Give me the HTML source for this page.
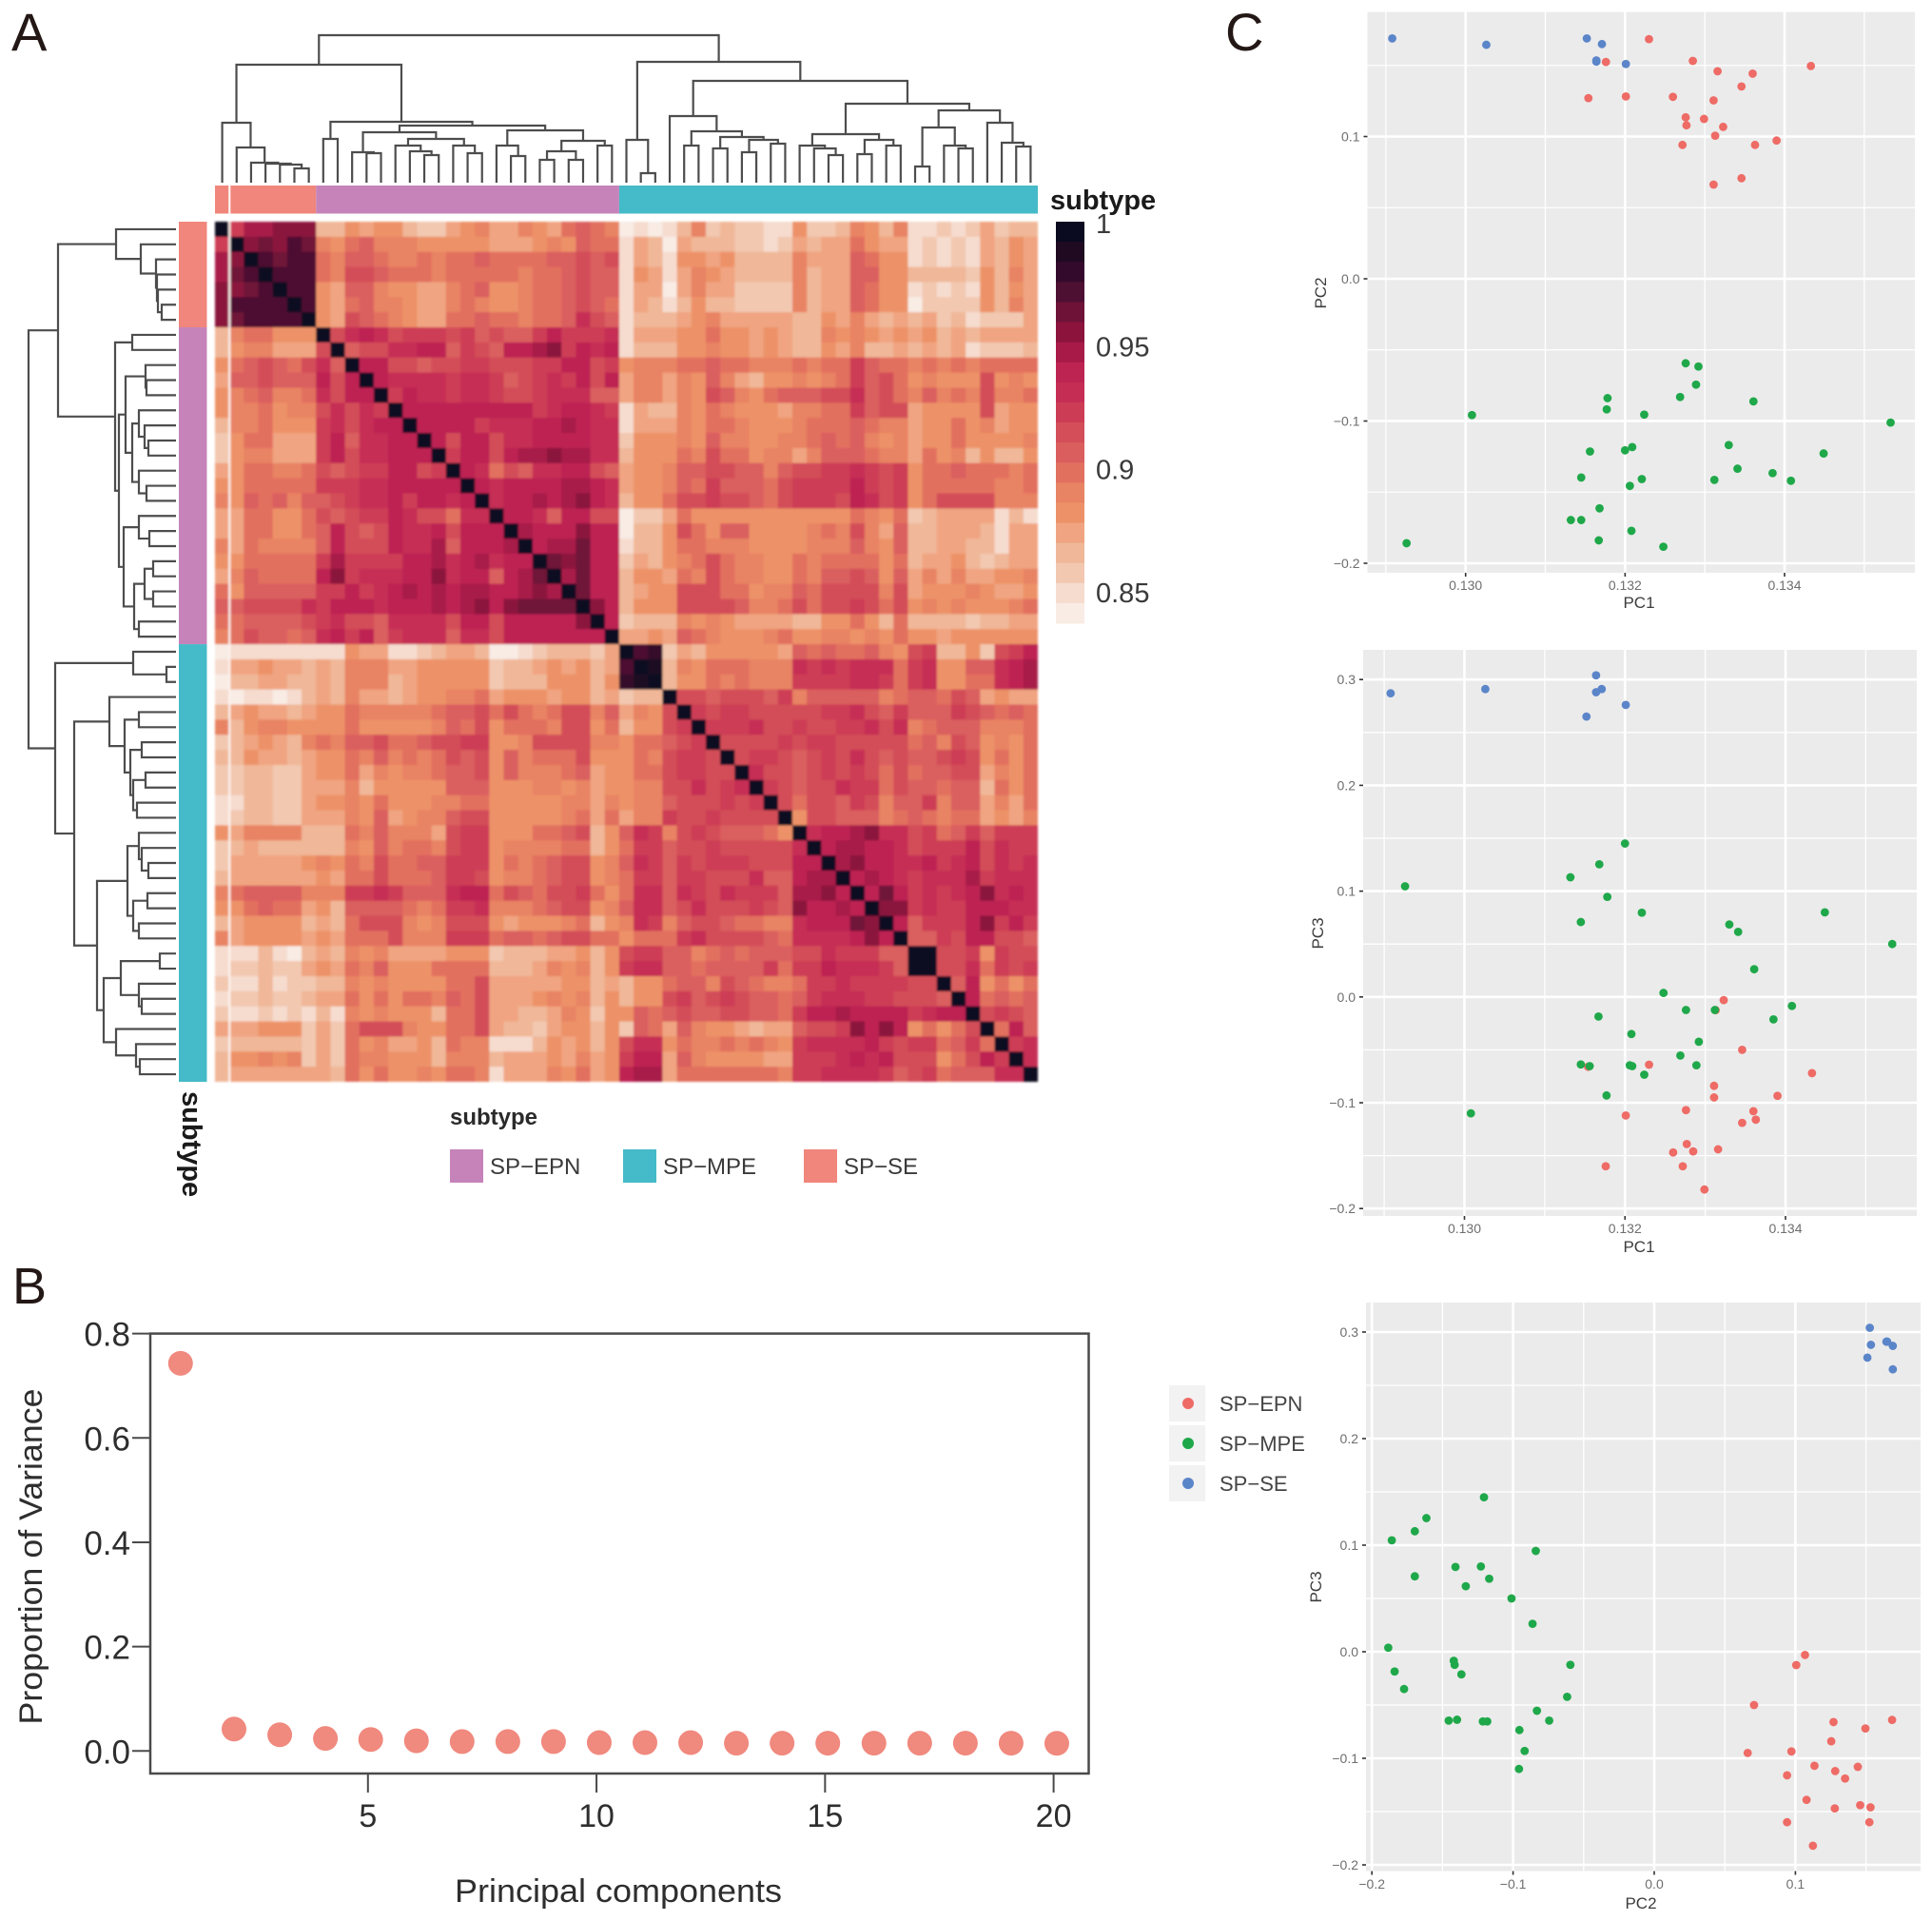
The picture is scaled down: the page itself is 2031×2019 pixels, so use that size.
<!DOCTYPE html>
<html lang="en">
<head>
<meta charset="utf-8">
<title>Spinal ependymoma subtype correlation and PCA</title>
<style>
html,body{margin:0;padding:0;background:#fff;}
svg{display:block;font-family:"Liberation Sans",sans-serif;}
</style>
</head>
<body>
<svg id="figure" xmlns="http://www.w3.org/2000/svg" width="2031" height="2019" viewBox="0 0 2031 2019">
  <defs>
    <filter id="soften" x="-1%" y="-1%" width="102%" height="102%"><feGaussianBlur stdDeviation="1.1"/></filter>
  </defs>
  <rect width="2031" height="2019" fill="#fff"/>
  <text x="12" y="53" font-size="56" fill="#231816">A</text>
  <text x="13" y="1370" font-size="54" fill="#231816">B</text>
  <text x="1288" y="53" font-size="56" fill="#231816">C</text>

  <g id="heatmap" filter="url(#soften)"></g>
  <g id="top-dendrogram" fill="none" stroke="#4d4d4d" stroke-width="2.2"></g>
  <g id="left-dendrogram" fill="none" stroke="#4d4d4d" stroke-width="2.2"></g>
  <g id="annotations"></g>
  <g id="colorbar"></g>

  <text x="1104" y="220" font-size="29" font-weight="bold" fill="#1a1a1a">subtype</text>
  <text transform="translate(192,1147) rotate(90)" font-size="29" font-weight="bold" fill="#1a1a1a">subtype</text>

  <g>
    <text x="473" y="1182" font-size="24" font-weight="bold" fill="#2a2a2a">subtype</text>
    <rect x="473" y="1208" width="35" height="35" fill="#c683ba"/>
    <text x="515" y="1234" font-size="24" fill="#3a3a3a">SP−EPN</text>
    <rect x="655" y="1208" width="35" height="35" fill="#45bac8"/>
    <text x="697" y="1234" font-size="24" fill="#3a3a3a">SP−MPE</text>
    <rect x="845" y="1208" width="35" height="35" fill="#f0867c"/>
    <text x="887" y="1234" font-size="24" fill="#3a3a3a">SP−SE</text>
  </g>

  <g id="scree-plot">
    <text x="650" y="1999" font-size="34" text-anchor="middle" textLength="344" lengthAdjust="spacingAndGlyphs" fill="#2e2e2e">Principal  components</text>
    <text transform="translate(44,1636) rotate(-90)" font-size="34" text-anchor="middle" textLength="353" lengthAdjust="spacingAndGlyphs" fill="#2e2e2e">Proportion of Variance</text>
  </g>

  <g id="scatter-panels"></g>

  <g>
    <rect x="1229" y="1456" width="38" height="38" fill="#f2f2f2"/>
    <circle cx="1249" cy="1475" r="6" fill="#ee6b66"/>
    <text x="1282" y="1483" font-size="22" fill="#444">SP−EPN</text>
    <rect x="1229" y="1498" width="38" height="38" fill="#f2f2f2"/>
    <circle cx="1249" cy="1517" r="6" fill="#1fa84a"/>
    <text x="1282" y="1525" font-size="22" fill="#444">SP−MPE</text>
    <rect x="1229" y="1540" width="38" height="38" fill="#f2f2f2"/>
    <circle cx="1249" cy="1559" r="6" fill="#5b85c9"/>
    <text x="1282" y="1567" font-size="22" fill="#444">SP−SE</text>
  </g>
</svg>
<script>
// ---------- Panel A data ----------
// Upper triangle of the symmetric correlation matrix, in thousandths. Row i starts at the diagonal.
const heatUpper = [
[1000,924,948,948,956,956,956,868,868,884,876,880,880,868,862,862,876,884,892,876,876,892,884,876,900,908,900,892,844,852,848,852,868,892,860,864,860,860,850,855,884,860,860,868,892,884,868,892,850,850,860,852,858,872,862,868,864],
[1000,956,964,956,972,964,892,884,900,908,892,888,888,884,884,884,884,884,876,876,876,884,892,884,908,900,896,852,872,868,844,872,868,864,868,862,858,856,858,876,866,874,872,900,884,872,876,856,862,852,862,850,876,868,884,876],
[1000,972,964,972,976,900,892,908,908,900,892,892,896,892,896,900,908,900,900,900,900,908,908,916,908,912,856,876,868,852,884,884,876,880,870,870,864,868,892,872,876,876,904,900,884,884,856,862,856,862,856,876,870,884,876],
[1000,972,972,976,900,892,916,912,908,900,900,896,892,900,900,900,900,900,892,896,900,908,916,908,908,852,884,872,856,876,892,884,876,870,864,864,868,892,864,876,876,908,904,884,884,864,864,864,864,858,884,868,892,876],
[1000,972,976,884,876,908,908,892,884,884,876,876,892,900,904,884,884,892,900,900,908,916,904,908,850,876,872,846,872,888,872,872,862,858,860,862,890,864,872,876,908,900,884,884,852,860,854,862,856,884,868,884,876],
[1000,976,884,876,900,908,892,892,880,876,876,892,896,892,884,884,892,900,900,908,916,908,900,852,872,868,850,868,880,866,870,858,858,858,860,888,864,872,872,904,900,884,884,848,862,862,862,862,884,868,888,876],
[1000,884,876,912,908,900,892,880,876,876,896,900,908,900,900,892,896,900,908,928,912,908,852,866,866,866,876,880,892,876,876,872,876,872,866,866,884,876,892,872,870,876,868,872,860,864,856,862,862,862,872],
[1000,916,932,940,932,916,924,924,924,916,924,908,916,908,908,924,936,924,924,924,932,856,876,872,872,884,884,900,884,884,876,884,876,868,868,892,880,892,884,876,884,872,880,868,876,868,872,872,872,872],
[1000,908,916,912,932,932,944,944,908,924,916,908,940,944,948,956,924,940,932,940,852,870,868,868,884,884,890,884,884,876,884,876,866,866,884,876,892,870,868,876,866,872,866,872,856,862,862,858,866],
[1000,936,944,916,916,908,912,916,924,924,916,912,916,920,920,936,940,916,924,884,892,892,892,900,900,904,900,900,892,892,892,900,892,900,900,920,908,900,900,892,900,892,896,892,900,896,896,896],
[1000,940,932,932,932,932,924,932,932,924,904,916,924,932,924,940,916,940,876,892,888,876,892,884,904,892,876,870,884,884,892,884,892,896,924,908,912,896,884,892,884,884,884,912,884,892,884],
[1000,924,940,932,932,924,932,932,924,916,912,924,932,932,932,904,908,876,892,888,876,892,884,912,908,892,884,900,904,908,908,912,912,932,908,916,900,892,908,892,900,888,916,892,892,900],
[1000,940,940,940,940,940,944,940,944,944,924,932,940,940,928,924,856,872,868,868,892,884,900,892,884,884,884,876,892,892,900,900,920,908,912,912,876,884,884,884,884,912,872,884,880],
[1000,940,940,944,944,924,932,932,932,940,940,948,940,932,932,850,872,872,872,892,884,896,900,888,884,884,884,892,900,900,900,908,900,892,892,872,884,884,900,884,892,876,884,884],
[1000,940,916,940,944,916,932,932,940,940,940,936,932,932,860,880,884,884,892,884,904,892,892,884,884,892,892,900,908,900,904,892,884,892,876,884,884,900,884,884,884,884,892],
[1000,924,940,940,912,940,948,948,956,948,948,932,932,866,880,884,884,900,892,912,900,896,884,892,892,876,892,904,904,904,900,892,892,876,896,884,892,868,884,868,868,884],
[1000,940,932,900,916,904,932,932,940,940,916,904,872,884,884,888,908,904,912,916,908,904,892,904,912,912,924,920,932,924,912,924,884,900,900,908,900,900,896,892,900],
[1000,940,932,940,940,940,940,948,952,940,932,876,884,884,892,908,900,920,908,904,904,900,916,920,924,924,924,936,924,912,924,884,900,900,900,900,900,892,892,900],
[1000,932,940,940,948,944,948,956,940,932,866,884,884,896,916,912,920,912,912,908,900,912,920,920,920,916,940,932,912,924,884,896,912,912,912,912,892,892,892],
[1000,940,940,932,908,940,940,916,916,844,862,858,876,900,884,884,884,884,884,884,884,884,884,884,884,900,892,880,900,860,866,876,876,872,876,850,866,856],
[1000,948,940,940,944,956,940,940,846,866,866,884,912,900,884,904,904,884,884,884,884,892,900,892,912,892,876,908,870,870,876,876,876,868,856,872,876],
[1000,944,948,948,964,944,940,850,866,870,884,900,900,892,892,892,884,884,884,884,892,892,892,904,892,880,908,870,870,876,876,866,868,856,876,876],
[1000,964,956,964,944,940,862,872,870,884,892,900,916,900,892,892,884,884,900,892,900,900,900,900,884,900,868,876,876,884,866,860,868,876,876],
[1000,948,964,944,940,868,880,880,876,900,892,916,900,892,892,884,884,900,892,904,908,916,908,884,904,872,892,872,888,876,876,884,880,892],
[1000,964,940,940,866,876,884,884,912,912,912,900,900,884,888,892,908,900,912,916,916,916,892,912,876,884,884,884,892,884,876,876,884],
[1000,956,940,870,884,884,884,916,912,916,912,904,892,892,900,912,900,916,916,924,916,900,916,884,892,884,892,884,884,884,892,900],
[1000,940,862,866,866,866,892,884,892,884,876,872,876,876,870,870,880,884,900,884,870,900,866,870,866,870,860,866,870,874,876],
[1000,876,876,880,876,904,900,892,884,884,884,892,900,884,884,892,892,884,892,884,900,884,884,876,884,884,884,884,884,884],
[1000,972,980,860,876,870,880,884,884,884,884,876,904,900,908,900,900,908,892,884,916,924,870,870,884,862,916,924,940],
[1000,992,866,888,880,900,896,900,892,892,892,932,924,932,924,932,932,932,900,924,932,884,884,904,904,932,940,948],
[1000,866,884,884,900,892,896,892,892,892,924,920,924,920,932,932,924,900,924,932,884,884,900,900,932,936,948],
[1000,916,912,908,916,912,916,908,924,892,904,908,908,908,908,892,900,904,904,900,912,908,872,884,872,876],
[1000,924,916,924,924,916,916,916,912,916,924,924,932,916,908,924,908,908,908,924,912,904,896,904,900],
[1000,924,920,924,932,916,916,924,916,916,924,924,932,916,932,892,900,908,908,908,892,892,892,900],
[1000,916,916,916,916,924,916,920,920,916,916,916,912,912,900,908,892,916,908,884,892,884,900],
[1000,916,924,920,916,908,916,920,916,932,912,904,916,908,908,912,924,916,884,896,884,900],
[1000,928,916,916,904,912,920,916,924,916,900,916,900,908,908,912,912,872,892,884,900],
[1000,920,916,908,912,912,932,920,920,900,916,908,908,900,908,908,868,896,880,900],
[1000,916,900,912,916,908,920,916,892,908,908,924,892,908,904,872,892,872,900],
[1000,884,912,912,904,908,904,892,900,908,900,892,900,900,872,884,872,890],
[1000,932,936,940,948,956,932,932,912,924,900,908,924,908,924,924,924],
[1000,940,948,948,940,940,932,916,924,924,924,940,912,932,924,924],
[1000,948,956,940,940,932,932,940,924,932,940,912,932,924,932],
[1000,940,948,940,932,924,932,932,932,948,924,932,932,932],
[1000,940,964,940,924,932,924,932,940,956,932,940,932],
[1000,956,956,924,932,924,924,940,940,944,932,932],
[1000,940,908,924,924,924,940,956,924,940,924],
[1000,908,904,924,916,940,940,912,916,908],
[1000,1000,912,916,924,884,924,912,916],
[1000,912,916,932,900,924,912,924],
[1000,908,940,884,900,884,900],
[1000,940,900,908,900,904],
[1000,916,920,916,908],
[1000,900,940,908],
[1000,924,932],
[1000,932],
[1000]
];
// Shared clustering tree: [merge height, left, right]; 0 marks a leaf.
const sampleTree = [155,
  [124,
    [63,0,[37,0,[21,0,[20,0,[19,0,[15,0,0]]]]]],
    [64,[46,0,0],
      [60,
        [53,[32,0,[31,0,0]],[46,[39,0,[33,0,[29,0,0]]],[39,0,[31,0,0]]]],
        [55,[39,0,[28,0,0]],[44,[33,[24,0,0],[24,0,0]],[39,0,0]]]
      ]
    ]
  ],
  [127,
    [45,0,[10,0,0]],
    [107,
      [70,0,[54,[39,0,0],[48,[36,0,0],[45,[32,0,0],[41,0,0]]]]],
      [83,
        [51,[39,0,[36,0,[29,0,0]]],[45,[30,0,0],[39,0,0]]],
        [76,[58,[17,0,0],[39,0,[36,0,0]]],[63,0,[42,0,[38,0,0]]]]
      ]
    ]
  ]
];
const groupNames = ["sp-se","sp-epn","sp-mpe"];
const groupSizes = [7,21,29];
const colorbarTicks = [1,0.95,0.9,0.85];

// ---------- Panel B data ----------
const pcComponent = [0.9,2.07,3.07,4.07,5.06,6.06,7.06,8.06,9.06,10.06,11.06,12.06,13.06,14.06,15.06,16.07,17.07,18.07,19.07,20.07];
const pcVariance = [0.743,0.042,0.031,0.024,0.022,0.0195,0.018,0.018,0.018,0.016,0.016,0.016,0.015,0.015,0.015,0.015,0.015,0.015,0.015,0.0146];
const screeYTicks = [0,0.2,0.4,0.6,0.8];
const screeXTicks = [5,10,15,20];

// ---------- Panel C data ----------
const epnPC1 = [0.1323,0.13176,0.13285,0.13316,0.1336,0.13433,0.13346,0.13154,0.13201,0.1326,0.13311,0.13276,0.13299,0.13277,0.13323,0.13313,0.13272,0.13363,0.1339,0.13346,0.13311];
const epnPC2 = [0.1685,0.1524,0.1532,0.1459,0.1442,0.1496,0.1352,0.127,0.1282,0.1279,0.1254,0.1135,0.1124,0.1079,0.1068,0.1006,0.0941,0.0941,0.0972,0.0707,0.0662];
const epnPC3 = [-0.064,-0.16,-0.146,-0.144,-0.108,-0.072,-0.119,-0.066,-0.112,-0.147,-0.084,-0.107,-0.182,-0.139,-0.003,-0.0125,-0.16,-0.116,-0.0935,-0.05,-0.095];
const mpePC1 = [0.13276,0.13292,0.13289,0.13269,0.13361,0.13178,0.13177,0.13224,0.13008,0.13533,0.1333,0.13209,0.132,0.13156,0.13449,0.13341,0.13385,0.13145,0.13221,0.13312,0.13408,0.13206,0.13168,0.13132,0.13145,0.13208,0.13167,0.13248,0.12926];
const mpePC2 = [-0.0594,-0.0617,-0.0744,-0.0831,-0.0862,-0.0839,-0.0918,-0.0955,-0.0958,-0.1011,-0.1169,-0.1183,-0.1206,-0.1214,-0.1228,-0.1335,-0.1366,-0.1397,-0.1408,-0.1414,-0.142,-0.1456,-0.1614,-0.1696,-0.1696,-0.1772,-0.1839,-0.1884,-0.1859];
const mpePC3 = [-0.0123,-0.0423,-0.0646,-0.0554,0.0262,0.0946,-0.0931,-0.0735,-0.11,0.05,0.0685,-0.0654,0.145,-0.0654,0.08,0.0615,-0.0212,-0.0638,0.0796,-0.0123,-0.0085,-0.0646,0.1254,0.1131,0.0708,-0.035,-0.0185,0.0038,0.1046];
const sePC1 = [0.12908,0.13026,0.13152,0.13171,0.13164,0.13164,0.13201];
const sePC2 = [0.169,0.1645,0.169,0.165,0.1527,0.1535,0.151];
const sePC3 = [0.287,0.291,0.265,0.291,0.304,0.288,0.276];
const pc1Ticks = [0.130,0.132,0.134];
const pc2Ticks = [-0.2,-0.1,0,0.1];
const pc2WideTicks = [-0.2,-0.1,0,0.1];
const pc3Ticks = [-0.2,-0.1,0,0.1,0.2,0.3];

// ---------- helpers ----------
const NS = "http://www.w3.org/2000/svg";
function make(tag, attrs, parent, content) {
  const node = document.createElementNS(NS, tag);
  for (const key in attrs) node.setAttribute(key, attrs[key]);
  if (content !== undefined) node.textContent = content;
  parent.appendChild(node);
  return node;
}
function linear(v0, p0, v1, p1) {
  return function (v) { return p0 + (v - v0) * (p1 - p0) / (v1 - v0); };
}
const bandColors = ["#0a0a20","#1f0a22","#340a2c","#4d1033","#6f1238","#8b133c","#a81a48","#bd2452","#c62d55","#cd3c55","#d34e59","#da5e5e","#e2705f","#e88363","#ed9268","#f0a481","#f0b798","#f2c8b0","#f6dccf","#f8ece5"];
const scaleMin = 0.84, scaleMax = 1;
function heatColor(value) {
  const t = (scaleMax - value) / (scaleMax - scaleMin);
  const band = Math.max(0, Math.min(bandColors.length - 1, Math.floor(t * bandColors.length)));
  return bandColors[band];
}

// ---------- Panel A: heatmap ----------
const heatLeft = 226, heatTop = 233, heatRight = 1091, heatBottom = 1137;
const sampleCount = heatUpper.length;
const colStep = (heatRight - heatLeft) / sampleCount;
const rowStep = (heatBottom - heatTop) / sampleCount;
const heatGroup = document.getElementById("heatmap");
function cellValue(i, j) {
  const a = Math.min(i, j), b = Math.max(i, j);
  return heatUpper[a][b - a] / 1000;
}
for (let i = 0; i < sampleCount; i++) {
  for (let j = 0; j < sampleCount; j++) {
    const cell = make("rect", {
      x: (heatLeft + j * colStep).toFixed(2),
      y: (heatTop + i * rowStep).toFixed(2),
      width: (colStep + (j < sampleCount - 1 ? 0.5 : 0)).toFixed(2),
      height: (rowStep + (i < sampleCount - 1 ? 0.5 : 0)).toFixed(2),
      fill: heatColor(cellValue(i, j))
    }, heatGroup);
    
    
  }
}
const heatStripe = make("rect", { x: heatLeft + colStep - 1, y: heatTop, width: 2.2, height: heatBottom - heatTop, fill: "#fdf3ef" }, heatGroup);



// ---------- Panel A: dendrograms ----------
function drawTree(node, counter, group, leafPos, heightPos, horizontal) {
  if (node === 0) {
    const pos = leafPos(counter.index);
    counter.index += 1;
    return { pos: pos, height: 0 };
  }
  const a = drawTree(node[1], counter, group, leafPos, heightPos, horizontal);
  const b = drawTree(node[2], counter, group, leafPos, heightPos, horizontal);
  const h = heightPos(node[0]);
  const d = horizontal
    ? "M" + heightPos(a.height) + "," + a.pos + "H" + h + "V" + b.pos + "H" + heightPos(b.height)
    : "M" + a.pos + "," + heightPos(a.height) + "V" + h + "H" + b.pos + "V" + heightPos(b.height);
  const branch = make("path", { d: d }, group);
  
  
  return { pos: (a.pos + b.pos) / 2, height: node[0] };
}
drawTree(sampleTree, { index: 0 }, document.getElementById("top-dendrogram"),
  function (i) { return heatLeft + colStep * (i + 0.5); },
  function (h) { return 192 - h; }, false);
drawTree(sampleTree, { index: 0 }, document.getElementById("left-dendrogram"),
  function (i) { return heatTop + rowStep * (i + 0.5); },
  function (h) { return 185 - h; }, true);

// ---------- Panel A: annotation bars ----------
const annotationColors = { "sp-se": "#f0867c", "sp-epn": "#c683ba", "sp-mpe": "#45bac8" };
const annGroup = document.getElementById("annotations");
let annStart = 0;
groupSizes.forEach(function (size, g) {
  const topBar = make("rect", { x: heatLeft + annStart * colStep, y: 195, width: size * colStep, height: 29.5, fill: annotationColors[groupNames[g]] }, annGroup);
  
  
  const leftBar = make("rect", { x: 188, y: heatTop + annStart * rowStep, width: 29.5, height: size * rowStep, fill: annotationColors[groupNames[g]] }, annGroup);
  
  
  annStart += size;
});
const annStripe = make("rect", { x: heatLeft + colStep - 1, y: 195, width: 2.2, height: 29.5, fill: "#fdf3ef" }, annGroup);



// ---------- Panel A: colorbar ----------
const barGroup = document.getElementById("colorbar");
const barLabelScale = linear(1, 235, 0.85, 623);
bandColors.forEach(function (color, b) {
  const yTop = 233 + b * (655 - 233) / bandColors.length;
  const band = make("rect", { x: 1110, y: yTop, width: 30, height: (655 - 233) / bandColors.length + 0.5, fill: color }, barGroup);
  
  
});
colorbarTicks.forEach(function (value) {
  const label = make("text", { x: 1152, y: barLabelScale(value) + 10, "font-size": 29, fill: "#3a3a3a" }, barGroup, String(value));
  
  
});

// ---------- Panel B: scree plot ----------
const scree = document.getElementById("scree-plot");
const screeX = linear(5, 386.8, 20, 1107.6);
const screeY = linear(0, 1840.3, 0.8, 1401.6);
const screeFrame = make("rect", { x: 158, y: 1401.6, width: 986.5, height: 462.4, fill: "none", stroke: "#4a4a4a", "stroke-width": 2.5 }, scree);


screeYTicks.forEach(function (value) {
  const tick = make("line", { x1: 139, x2: 158, y1: screeY(value), y2: screeY(value), stroke: "#4a4a4a", "stroke-width": 2 }, scree);
  
  
  const label = make("text", { x: 137, y: screeY(value) + 13, "font-size": 35, "text-anchor": "end", fill: "#2e2e2e" }, scree, value.toFixed(1));
  
  
});
screeXTicks.forEach(function (value) {
  const tick = make("line", { x1: screeX(value), x2: screeX(value), y1: 1864, y2: 1884, stroke: "#4a4a4a", "stroke-width": 2 }, scree);
  
  
  const label = make("text", { x: screeX(value), y: 1920, "font-size": 34, "text-anchor": "middle", fill: "#2e2e2e" }, scree, String(value));
  
  
});
pcComponent.forEach(function (component, i) {
  const point = make("circle", { cx: screeX(component), cy: screeY(pcVariance[i]), r: 13, fill: "#f0897e" }, scree);
  
  
});

// ---------- Panel C: scatter panels ----------
const scatterRoot = document.getElementById("scatter-panels");
const pcSeries = [
  { name: "sp-epn", color: "#ee6b66", PC1: epnPC1, PC2: epnPC2, PC3: epnPC3 },
  { name: "sp-mpe", color: "#1fa84a", PC1: mpePC1, PC2: mpePC2, PC3: mpePC3 },
  { name: "sp-se", color: "#5b85c9", PC1: sePC1, PC2: sePC2, PC3: sePC3 }
];
function tickText(value, digits) {
  return value.toFixed(digits).replace("-", "\u2212");
}
function drawScatter(cfg) {
  const g = make("g", {}, scatterRoot);
  
  
  const bg = make("rect", { x: cfg.left, y: cfg.top, width: cfg.right - cfg.left, height: cfg.bottom - cfg.top, fill: "#ebebeb" }, g);
  
  
  function minorGrid(ticks, scale, low, high, vertical) {
    const step = ticks[1] - ticks[0];
    for (let n = -1; n < ticks.length + 1; n++) {
      const p = scale(ticks[0] + (n + 0.5) * step);
      if (p <= low || p >= high) continue;
      const line = vertical
        ? make("line", { x1: p, x2: p, y1: cfg.top, y2: cfg.bottom, stroke: "#fff", "stroke-width": 1.3 }, g)
        : make("line", { x1: cfg.left, x2: cfg.right, y1: p, y2: p, stroke: "#fff", "stroke-width": 1.3 }, g);
      
      
    }
  }
  minorGrid(cfg.xTicks, cfg.x, cfg.left, cfg.right, true);
  minorGrid(cfg.yTicks, cfg.y, cfg.top, cfg.bottom, false);
  cfg.xTicks.forEach(function (value) {
    const p = cfg.x(value);
    const line = make("line", { x1: p, x2: p, y1: cfg.top, y2: cfg.bottom, stroke: "#fff", "stroke-width": 2.6 }, g);
    
    
    const tick = make("line", { x1: p, x2: p, y1: cfg.bottom, y2: cfg.bottom + 4, stroke: "#333", "stroke-width": 1.6 }, g);
    
    
    const label = make("text", { x: p, y: cfg.xLabelY, "font-size": 14, "text-anchor": "middle", fill: "#6e6e6e" }, g, tickText(value, cfg.xDigits));
    
    
  });
  cfg.yTicks.forEach(function (value) {
    const p = cfg.y(value);
    const line = make("line", { x1: cfg.left, x2: cfg.right, y1: p, y2: p, stroke: "#fff", "stroke-width": 2.6 }, g);
    
    
    const tick = make("line", { x1: cfg.left - 4, x2: cfg.left, y1: p, y2: p, stroke: "#333", "stroke-width": 1.6 }, g);
    
    
    const label = make("text", { x: cfg.left - 8, y: p + 5, "font-size": 14, "text-anchor": "end", fill: "#6e6e6e" }, g, tickText(value, 1));
    
    
  });
  pcSeries.forEach(function (series) {
    series[cfg.xKey].forEach(function (value, i) {
      const dot = make("circle", { cx: cfg.x(value), cy: cfg.y(series[cfg.yKey][i]), r: 4.4, fill: series.color }, g);
      
      
    });
  });
  const xTitle = make("text", { x: cfg.xTitleX, y: cfg.xTitleY, "font-size": 17, "text-anchor": "middle", fill: "#3c3c3c" }, g, cfg.xKey);
  
  
  const yTitle = make("text", { transform: "translate(" + cfg.yTitleX + "," + cfg.yTitleY + ") rotate(-90)", "font-size": 17, "text-anchor": "middle", fill: "#3c3c3c" }, g, cfg.yKey);
  
  
}
drawScatter({ id: "scatter-pc1-pc2", xKey: "PC1", yKey: "PC2", left: 1437.5, right: 2013, top: 12.6, bottom: 602,
  x: linear(0.130, 1540.7, 0.134, 1876), y: linear(0, 293, 0.1, 143.5), xTicks: pc1Ticks, yTicks: pc2Ticks, xDigits: 3,
  xLabelY: 620, xTitleX: 1723, xTitleY: 639, yTitleX: 1394, yTitleY: 308 });
drawScatter({ id: "scatter-pc1-pc3", xKey: "PC1", yKey: "PC3", left: 1433, right: 2015, top: 683, bottom: 1278,
  x: linear(0.130, 1539.5, 0.134, 1877), y: linear(0, 1047.8, 0.1, 936.6), xTicks: pc1Ticks, yTicks: pc3Ticks, xDigits: 3,
  xLabelY: 1296, xTitleX: 1723, xTitleY: 1316, yTitleX: 1391, yTitleY: 981 });
drawScatter({ id: "scatter-pc2-pc3", xKey: "PC2", yKey: "PC3", left: 1436, right: 2019, top: 1369, bottom: 1966.5,
  x: linear(0, 1739, 0.1, 1887.4), y: linear(0, 1736, 0.1, 1624), xTicks: pc2WideTicks, yTicks: pc3Ticks, xDigits: 1,
  xLabelY: 1985, xTitleX: 1725, xTitleY: 2006, yTitleX: 1389, yTitleY: 1668 });
</script>
</body>
</html>
